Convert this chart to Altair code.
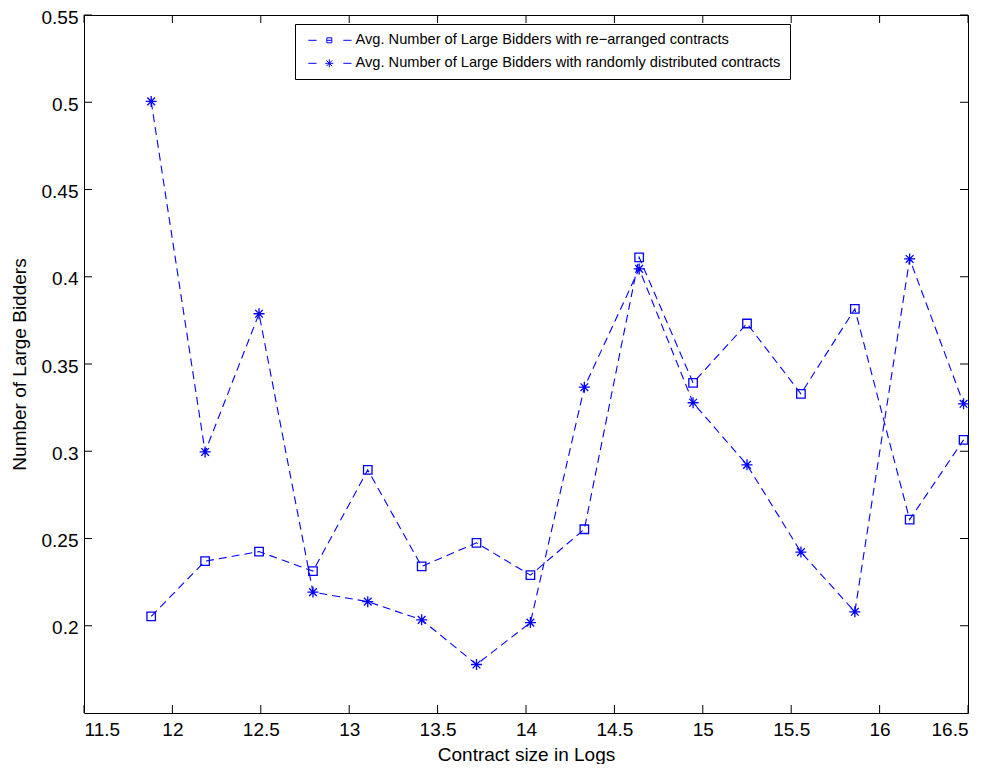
import altair as alt
import pandas as pd

# ---- data ----
x_vals = [11.88, 12.185, 12.49, 12.795, 13.105, 13.41, 13.72, 14.025,
          14.33, 14.64, 14.945, 15.25, 15.555, 15.86, 16.17, 16.475]
rearranged = [0.2054, 0.237, 0.2425, 0.2313, 0.2893, 0.234, 0.2475, 0.229,
              0.2553, 0.4111, 0.3392, 0.3732, 0.3329, 0.3816, 0.2608, 0.3065]
randomly = [0.5005, 0.2996, 0.3788, 0.2193, 0.2138, 0.2034, 0.1778, 0.2018,
            0.3367, 0.4045, 0.3278, 0.2922, 0.2422, 0.208, 0.4102, 0.3272]
series_names = ["Avg. Number of Large Bidders with re\u2212arranged contracts",
                "Avg. Number of Large Bidders with randomly distributed contracts"]
x_ticks = [11.5, 12, 12.5, 13, 13.5, 14, 14.5, 15, 15.5, 16, 16.5]
y_ticks = [0.2, 0.25, 0.3, 0.35, 0.4, 0.45, 0.5, 0.55]

rows = []
for xv, a, b in zip(x_vals, rearranged, randomly):
    rows.append({"x": xv, "y": a, "series": series_names[0]})
    rows.append({"x": xv, "y": b, "series": series_names[1]})
df = pd.DataFrame(rows)
xt = pd.DataFrame({"t": x_ticks})
yt = pd.DataFrame({"t": y_ticks})

W, H = 884, 698
FONT = "Liberation Sans, Arial, Helvetica, sans-serif"
BLUE = "#0000ff"
TL = 8  # inward tick length

xscale = alt.Scale(domain=[11.5, 16.5], nice=False, zero=False)
yscale = alt.Scale(domain=[0.15, 0.55], nice=False, zero=False)

xaxis = alt.Axis(values=x_ticks, format="~g", title="Contract size in Logs",
                 ticks=False, domain=False, grid=False, labelPadding=7,
                 titlePadding=6)
yaxis = alt.Axis(values=y_ticks, format="~g", title="Number of Large Bidders",
                 ticks=False, domain=False, grid=False, labelPadding=6,
                 labelOffset=2, titlePadding=12)

base = alt.Chart(df)

lines = base.mark_line(strokeDash=[8, 5], strokeWidth=1.1, color=BLUE).encode(
    x=alt.X("x:Q", scale=xscale, axis=xaxis),
    y=alt.Y("y:Q", scale=yscale, axis=yaxis),
    detail="series:N",
)

squares = base.transform_filter(
    alt.datum.series == series_names[0]
).mark_point(filled=False, color=BLUE, strokeWidth=1.3, opacity=1).encode(
    x="x:Q", y="y:Q", shape=alt.value("square"), size=alt.value(72)
)

ASTER = "M0,-1L0,1M-1,0L1,0M-0.7,-0.7L0.7,0.7M-0.7,0.7L0.7,-0.7"
stars = base.transform_filter(
    alt.datum.series == series_names[1]
).mark_point(filled=False, color=BLUE, strokeWidth=1.3, opacity=1).encode(
    x="x:Q", y="y:Q", shape=alt.value(ASTER), size=alt.value(121)
)

LEG_SQ = "M-1.2,0L2.1,0M6.2,-1L8.2,-1L8.2,1L6.2,1ZM6.2,0L8.2,0M12.8,0L16.1,0"
LEG_ST = ("M-1.2,0L2.1,0M7.2,-1.6L7.2,1.6M5.6,0L8.8,0M6.07,-1.13L8.33,1.13"
          "M6.07,1.13L8.33,-1.13M12.8,0L16.1,0")

legend_layer = base.transform_filter("false").mark_point(
    filled=False, color=BLUE, strokeWidth=1
).encode(
    x="x:Q", y="y:Q",
    size=alt.value(25),
    shape=alt.Shape(
        "series:N",
        scale=alt.Scale(domain=series_names, range=[LEG_SQ, LEG_ST]),
        legend=alt.Legend(
            title=None, orient="none", legendX=211, legendY=9,
            padding=9, rowPadding=8, labelOffset=37, labelLimit=0,
            labelFont=FONT, labelFontSize=14.6, labelColor="black",
            symbolSize=25, symbolStrokeColor=BLUE, symbolStrokeWidth=1,
            symbolFillColor="transparent", symbolOpacity=1,
            strokeColor="black", fillColor="white",
        ),
    ),
)

bottom_ticks = alt.Chart(xt).mark_rule(color="black", strokeWidth=1).encode(
    x="t:Q", y=alt.value(H), y2=alt.value(H - TL))
top_ticks = alt.Chart(xt).mark_rule(color="black", strokeWidth=1).encode(
    x="t:Q", y=alt.value(0), y2=alt.value(TL))
left_ticks = alt.Chart(yt).mark_rule(color="black", strokeWidth=1).encode(
    y="t:Q", x=alt.value(0), x2=alt.value(TL))
right_ticks = alt.Chart(yt).mark_rule(color="black", strokeWidth=1).encode(
    y="t:Q", x=alt.value(W), x2=alt.value(W - TL))

chart = alt.layer(
    lines, squares, stars, bottom_ticks, top_ticks, left_ticks, right_ticks,
    legend_layer
).properties(
    width=W, height=H,
    padding={"left": 2, "top": 0, "right": 5, "bottom": 0},
    background="white",
).configure_view(
    stroke="black", strokeWidth=1
).configure_axis(
    labelFont=FONT, labelFontSize=19, labelColor="black",
    titleFont=FONT, titleFontSize=19, titleColor="black", titleFontWeight="normal",
)

chart.save("out.html", embed_options={"renderer": "svg", "actions": False})
